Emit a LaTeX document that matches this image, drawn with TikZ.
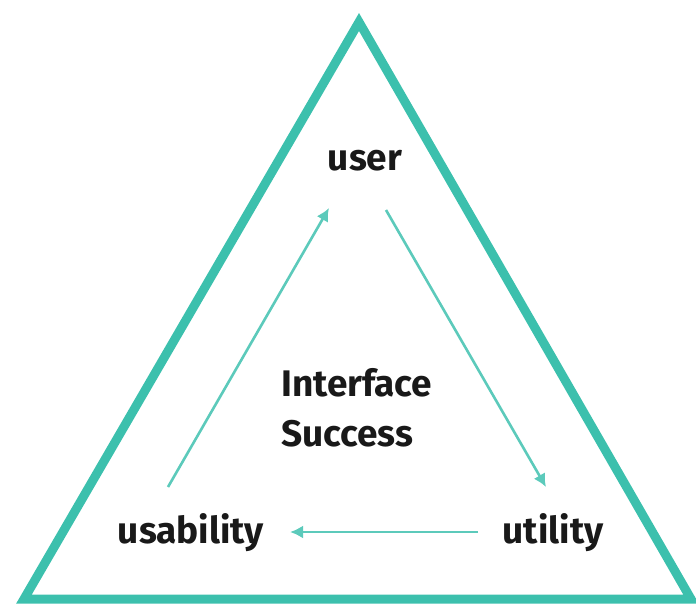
\documentclass[tikz,border=0pt]{standalone}
\usepackage{fontspec}
\setmainfont{Fira Sans}
\usetikzlibrary{arrows.meta}
\definecolor{teal1}{HTML}{3CC0AD}
\definecolor{teal2}{HTML}{5CCABB}
\tikzset{
  frame/.style={draw=teal1, line width=9pt, line join=miter},
  flow/.style={draw=teal2, line width=2.6pt, -{Latex[length=13pt,width=13pt]}},
  lbl/.style={font=\fontsize{37}{44}\selectfont\bfseries, text=black!90, inner sep=0pt, anchor=base},
}
\begin{document}
\begin{tikzpicture}[x=1pt,y=-1pt]
\useasboundingbox (0,0) rectangle (696,603);
\coordinate (A) at (359,22);
\coordinate (B) at (24,599);
\coordinate (C) at (691,599);
\draw[frame] (A) -- (B) -- (C) -- cycle;
\node[lbl] (user) at (365,170) {user};
\node[lbl, anchor=base west] (center1) at (281,396) {Interface};
\node[lbl, anchor=base west] (center2) at (281,446) {Success};
\node[lbl] (usab) at (191,543) {usability};
\node[lbl] (util) at (553,543) {utility};
\coordinate (a1s) at (168,487);
\coordinate (a1e) at (329,208);
\coordinate (a2s) at (386,210);
\coordinate (a2e) at (546,487);
\coordinate (a3s) at (478,532);
\coordinate (a3e) at (290,532);
\draw[flow] (a1s) -- (a1e);
\draw[flow] (a2s) -- (a2e);
\draw[flow] (a3s) -- (a3e);
\end{tikzpicture}
\end{document}
